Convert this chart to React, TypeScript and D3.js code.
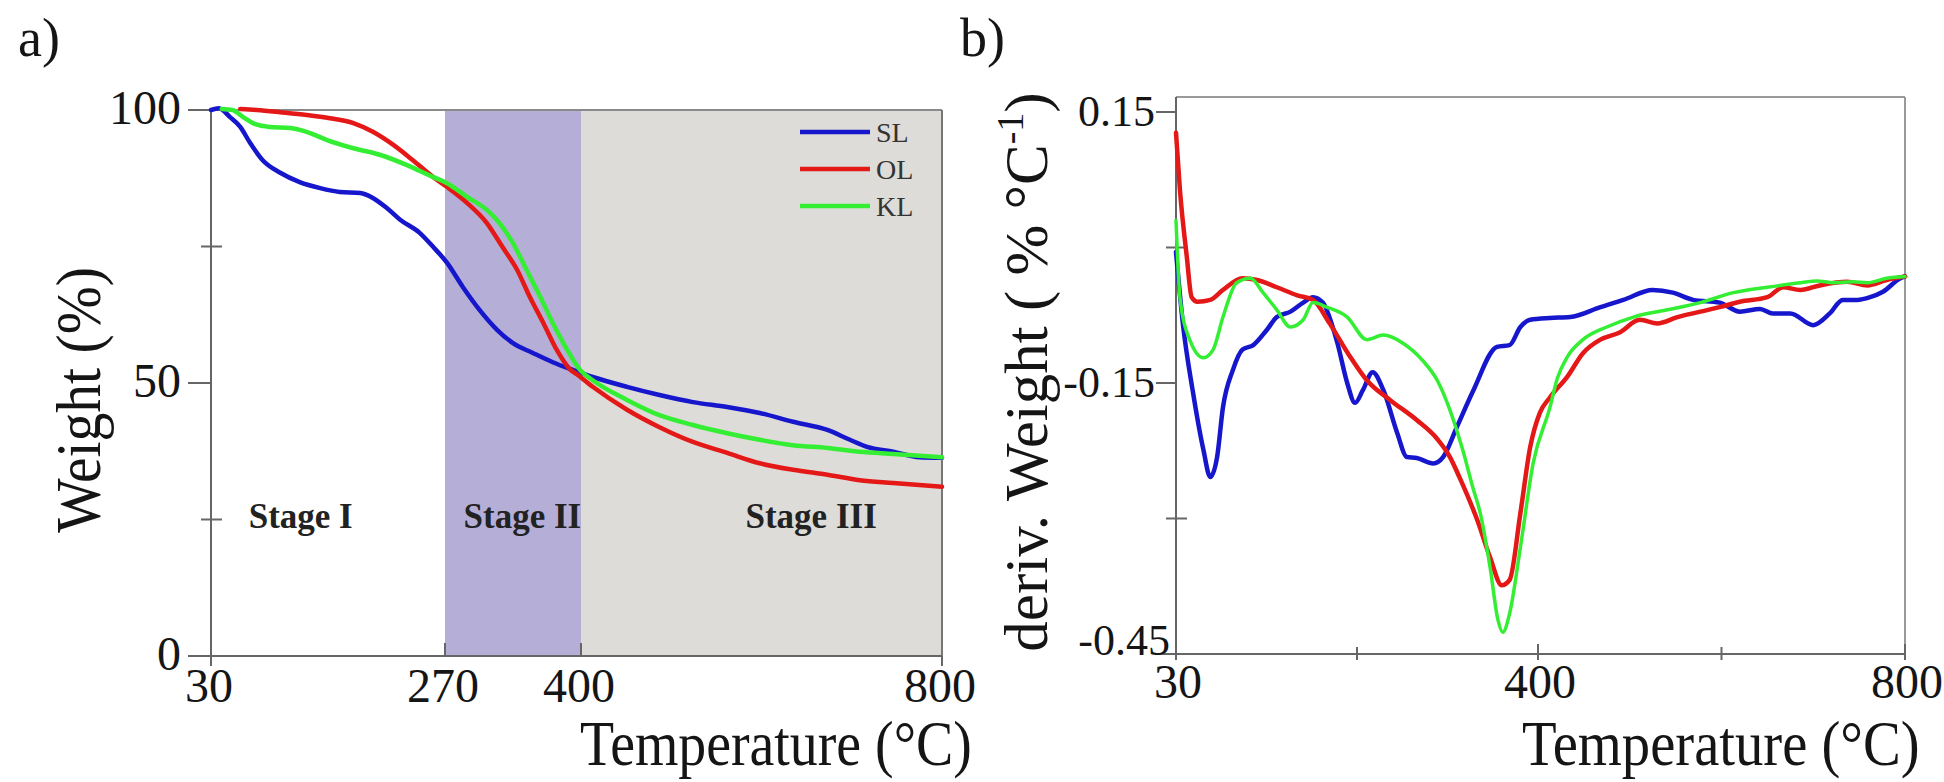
import React from 'react';
import * as d3 from 'd3';

// ---------- Panel a: TGA weight (%) vs temperature ----------
const slTGA: [number, number][] = [
  [30, 100], [38, 100.3], [49.5, 98.7], [60, 96.9], [70, 94.0], [83, 90.8], [101, 88.5], [121, 86.8],
  [142, 85.7], [162, 85.0], [183, 84.8], [196, 83.9], [210, 82.1], [224, 79.9], [244, 77.5],
  [258, 74.9], [272, 72.0], [287, 67.6], [303, 63.4], [320, 59.7], [335, 57.3], [354, 55.5],
  [373, 53.8], [392, 52.4], [413, 51.1], [451, 49.3], [487, 47.8], [524, 46.5], [562, 45.6],
  [598, 44.5], [635, 42.9], [673, 41.4], [698, 39.6], [717, 38.3], [746, 37.4], [775, 36.4], [800, 36.3],
];
const olTGA: [number, number][] = [
  [60, 100.2], [77, 100], [101, 99.6], [128, 99.1], [152, 98.5], [176, 97.6], [196, 96.0], [217, 93.6],
  [237, 90.8], [258, 87.7], [272, 85.9], [291, 83.0], [310, 79.3], [325, 74.9], [339, 70.7],
  [351, 65.8], [364, 61.0], [377, 56.0], [389, 52.6], [396, 51.6], [413, 49.3], [451, 45.1],
  [487, 41.9], [524, 39.2], [562, 37.2], [598, 35.3], [635, 34.1], [673, 33.2], [709, 32.2],
  [746, 31.7], [800, 31.0],
];
const klTGA: [number, number][] = [
  [41, 100.2], [52, 100], [63, 98.7], [73, 97.6], [90, 96.9], [111, 96.7], [128, 96.0], [149, 94.5],
  [176, 93.0], [203, 91.8], [231, 89.9], [258, 87.7], [272, 86.6], [291, 84.1], [310, 81.7],
  [322, 79.3], [335, 75.6], [348, 70.7], [361, 65.8], [373, 61.0], [387, 56.0], [399, 52.4],
  [413, 50.5], [451, 46.9], [487, 44.1], [524, 42.3], [562, 40.8], [598, 39.6], [635, 38.6],
  [673, 38.1], [709, 37.4], [746, 37.0], [800, 36.4],
];

// ---------- Panel b: DTG deriv. weight vs temperature ----------
const slDTG: [number, number][] = [
  [30, -0.005], [37, -0.084], [47, -0.158], [58, -0.224], [65, -0.254], [72, -0.232], [78, -0.177],
  [88, -0.136], [98, -0.113], [109, -0.108], [123, -0.091], [133, -0.077], [147, -0.071],
  [160, -0.061], [170, -0.055], [180, -0.061], [195, -0.106], [205, -0.150], [213, -0.172],
  [221, -0.158], [231, -0.138], [242, -0.158], [256, -0.205], [266, -0.232], [276, -0.233],
  [293, -0.239], [303, -0.232], [317, -0.199], [334, -0.158], [358, -0.110], [371, -0.108],
  [382, -0.088], [392, -0.080], [413, -0.078], [435, -0.077], [468, -0.066], [493, -0.058],
  [525, -0.047], [547, -0.050], [569, -0.058], [598, -0.061], [620, -0.071], [642, -0.068],
  [656, -0.073], [675, -0.073], [700, -0.086], [718, -0.073], [732, -0.058], [748, -0.058],
  [762, -0.055], [776, -0.049], [795, -0.034], [800, -0.032],
];
const olDTG: [number, number][] = [
  [30, 0.127], [34, 0.064], [41, -0.010], [46, -0.055], [52, -0.060], [65, -0.058], [78, -0.047],
  [98, -0.034], [113, -0.036], [133, -0.044], [154, -0.053], [170, -0.058], [187, -0.084],
  [208, -0.121], [225, -0.147], [249, -0.169], [276, -0.191], [297, -0.212], [310, -0.232],
  [320, -0.255], [338, -0.302], [351, -0.343], [363, -0.374], [371, -0.368], [382, -0.294],
  [392, -0.221], [402, -0.183], [413, -0.166], [432, -0.143], [449, -0.117], [468, -0.102],
  [489, -0.094], [511, -0.080], [530, -0.084], [552, -0.077], [577, -0.071], [598, -0.066],
  [620, -0.060], [650, -0.055], [667, -0.044], [686, -0.047], [707, -0.042], [737, -0.038],
  [759, -0.042], [780, -0.036], [800, -0.032],
];
const klDTG: [number, number][] = [
  [30, 0.03], [34, -0.055], [44, -0.102], [58, -0.122], [68, -0.113], [78, -0.077], [92, -0.039],
  [106, -0.034], [119, -0.050], [133, -0.069], [147, -0.088], [160, -0.080], [170, -0.061],
  [184, -0.066], [205, -0.077], [225, -0.102], [242, -0.097], [262, -0.106], [282, -0.125],
  [297, -0.147], [310, -0.180], [323, -0.224], [334, -0.268], [341, -0.294], [351, -0.354],
  [359, -0.412], [364, -0.426], [371, -0.405], [382, -0.332], [395, -0.239], [413, -0.177],
  [421, -0.145], [432, -0.121], [449, -0.102], [475, -0.088], [504, -0.077], [541, -0.069],
  [577, -0.061], [613, -0.050], [650, -0.044], [686, -0.039], [704, -0.037], [722, -0.039],
  [743, -0.038], [759, -0.039], [780, -0.034], [800, -0.032],
];

const seriesNames = ['SL', 'OL', 'KL'];
const seriesColors = ['#1616cc', '#e51818', '#33ee33'];

const xTicksA = [30, 270, 400, 800];
const yMajorA = [0, 50, 100];
const yMinorA = [25, 75];
const stageEdges = [30, 270, 400, 800];
const stageLabels = ['Stage I', 'Stage II', 'Stage III'];
const stageLabelT = [122, 344, 655];

const xTicksB = [30, 400, 800];
const xMinorB = [215, 600];
const yMajorB = [0.15, -0.15, -0.45];
const yMinorB = [0, -0.3];

const FONT = "'Liberation Serif','Times New Roman',serif";
const INK = '#151515';

export default function App() {
  const xA = d3.scaleLinear().domain([30, 270, 400, 800]).range([211, 445, 581, 942]);
  const yA = d3.scaleLinear().domain([0, 100]).range([656, 110]);
  const xB = d3.scaleLinear().domain([30, 400, 800]).range([1176, 1538, 1905]);
  const yB = d3.scaleLinear().domain([-0.45, 0.15]).range([654, 112]);

  const lineA = d3.line<[number, number]>().x(d => xA(d[0])).y(d => yA(d[1])).curve(d3.curveMonotoneX);
  const lineB = d3.line<[number, number]>().x(d => xB(d[0])).y(d => yB(d[1])).curve(d3.curveMonotoneX);

  const tgaData = [slTGA, olTGA, klTGA];
  const dtgData = [slDTG, olDTG, klDTG];
  const bandColors = ['#ffffff', '#b5afd7', '#dddcd8'];

  const aL = xA(30), aR = xA(800), aT = yA(100), aB = yA(0);
  const bL = xB(30), bR = xB(800), bT = yB(0.15) - 15, bB = yB(-0.45);

  return (
    <svg width={1944} height={782} style={{ position: 'absolute', left: 0, top: 0, background: '#fff' }} fontFamily={FONT}>
      <rect x={0} y={0} width={1944} height={782} fill="#fff" />
      {/* ---------------- Panel a ---------------- */}
      <text x={18} y={56} fontSize={54} fill={INK}>a)</text>
      {stageEdges.slice(0, 3).map((t, i) => (
        <rect key={'band' + i} x={xA(t)} y={aT} width={xA(stageEdges[i + 1]) - xA(t)} height={aB - aT} fill={bandColors[i]} />
      ))}
      {/* frame */}
      <line x1={aL} y1={aT} x2={aR} y2={aT} stroke="#8a8a8a" strokeWidth={2} />
      <line x1={aR} y1={aT} x2={aR} y2={aB + 6} stroke="#777" strokeWidth={2} />
      <line x1={aL} y1={aT} x2={aL} y2={aB} stroke="#666" strokeWidth={2} />
      <line x1={aL - 23} y1={aB} x2={aR} y2={aB} stroke="#666" strokeWidth={2} />
      {yMajorA.map(v => (
        <g key={'ya' + v}>
          <line x1={aL - 23} x2={aL} y1={yA(v)} y2={yA(v)} stroke="#666" strokeWidth={2} />
          <text x={181} y={yA(v) + 14} fontSize={48} textAnchor="end" fill={INK}>{v}</text>
        </g>
      ))}
      {yMinorA.map(v => (
        <line key={'yam' + v} x1={aL - 10} x2={aL + 11} y1={yA(v)} y2={yA(v)} stroke="#666" strokeWidth={2} />
      ))}
      {xTicksA.map(t => (
        <g key={'xa' + t}>
          {t === 270 || t === 400 ? (
            <line x1={xA(t)} x2={xA(t)} y1={aB - 13} y2={aB} stroke="#666" strokeWidth={2} />
          ) : (
            <line x1={xA(t)} x2={xA(t)} y1={aB} y2={aB + 10} stroke="#666" strokeWidth={2} />
          )}
          <text x={xA(t) - 2} y={702} fontSize={48} textAnchor="middle" fill={INK}>{t}</text>
        </g>
      ))}
      {stageLabels.map((s, i) => (
        <text key={s} x={xA(stageLabelT[i])} y={yA(23.4)} fontSize={35} fontWeight="bold" textAnchor="middle" fill="#222">{s}</text>
      ))}
      {tgaData.map((d, i) => (
        <path key={'tga' + i} d={lineA(d) || ''} fill="none" stroke={seriesColors[i]} strokeWidth={4.5} strokeLinejoin="round" strokeLinecap="round" />
      ))}
      {/* legend */}
      {seriesNames.map((n, i) => (
        <g key={'leg' + n}>
          <line x1={800} x2={870} y1={132 + i * 37} y2={132 + i * 37} stroke={seriesColors[i]} strokeWidth={4.5} />
          <text x={876} y={142 + i * 37} fontSize={28} fill="#333">{n}</text>
        </g>
      ))}
      <text fontSize={64} textAnchor="middle" fill={INK} transform="translate(100,400) rotate(-90) scale(0.9,1)">Weight (%)</text>
      <text fontSize={64} fill={INK} transform="translate(580,765) scale(0.872,1)">Temperature (°C)</text>

      {/* ---------------- Panel b ---------------- */}
      <text x={960} y={56} fontSize={54} fill={INK}>b)</text>
      <line x1={bL} y1={bT} x2={bR} y2={bT} stroke="#999" strokeWidth={2} />
      <line x1={bR} y1={bT} x2={bR} y2={bB} stroke="#999" strokeWidth={2} />
      <line x1={bL} y1={bT} x2={bL} y2={bB} stroke="#666" strokeWidth={2} />
      <line x1={bL} y1={bB} x2={bR} y2={bB} stroke="#666" strokeWidth={2} />
      {yMajorB.map(v => (
        <g key={'yb' + v}>
          <line x1={bL - 20} x2={bL} y1={yB(v)} y2={yB(v)} stroke="#666" strokeWidth={2} />
          <text x={v === -0.45 ? 1170 : 1155} y={v === -0.45 ? yB(v) + 1 : yB(v) + 14} fontSize={44} textAnchor="end" fill={INK}>{v.toFixed(2)}</text>
        </g>
      ))}
      {yMinorB.map(v => (
        <line key={'ybm' + v} x1={bL - 10} x2={bL + 11} y1={yB(v)} y2={yB(v)} stroke="#666" strokeWidth={2} />
      ))}
      {xMinorB.map(t => (
        <line key={'xbm' + t} x1={xB(t)} x2={xB(t)} y1={bB - 7} y2={bB + 6} stroke="#666" strokeWidth={2} />
      ))}
      {xTicksB.map(t => (
        <g key={'xb' + t}>
          <line x1={xB(t)} x2={xB(t)} y1={bB - 10} y2={bB + 6} stroke="#666" strokeWidth={2} />
          <text x={xB(t) + 2} y={698} fontSize={48} textAnchor="middle" fill={INK}>{t}</text>
        </g>
      ))}
      {dtgData.map((d, i) => (
        <path key={'dtg' + i} d={lineB(d) || ''} fill="none" stroke={seriesColors[i]} strokeWidth={i === 2 ? 3.5 : 4.5} strokeLinejoin="round" strokeLinecap="round" />
      ))}
      <text fontSize={61} textAnchor="middle" fill={INK} transform="translate(1047,372) rotate(-90)">
        deriv. Weight ( % °C<tspan fontSize={38} dy={-24}>-1</tspan><tspan dy={24}>)</tspan>
      </text>
      <text fontSize={64} fill={INK} transform="translate(1522,765) scale(0.885,1)">Temperature (°C)</text>
    </svg>
  );
}
